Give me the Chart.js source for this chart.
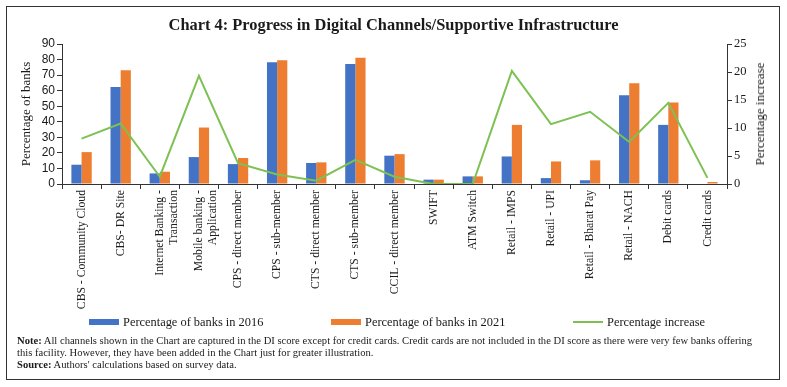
<!DOCTYPE html>
<html>
<head>
<meta charset="utf-8">
<script src="https://cdn.jsdelivr.net/npm/chart.js@4/dist/chart.umd.min.js"></script>
<style>
  html, body { margin: 0; padding: 0; background: #fff; }
  #wrap { position: relative; width: 787px; height: 387px; overflow: hidden; font-family: "Liberation Serif", serif; color: #1a1a1a; }
  #c { position: absolute; left: 0; top: 0; }
  #frame { position: absolute; left: 6px; top: 6px; width: 772px; height: 372px; border: 1.5px solid #333; pointer-events: none; }
  #title { position: absolute; left: 0; width: 787px; top: 14px; text-align: center; font-weight: bold; font-size: 16.4px; line-height: 22px; color: #1a1a1a; }
  .lg { position: absolute; top: 314px; font-size: 12.4px; line-height: 16px; white-space: nowrap; }
  .sw { position: absolute; }
  #notes { position: absolute; left: 17px; top: 335px; font-size: 10px; line-height: 11.8px; white-space: nowrap; color: #1a1a1a; transform-origin: 0 0; }
  #rtitle { position: absolute; left: 760px; top: 114px; font-size: 13px; line-height: 16px; white-space: nowrap; transform: translate(-50%, -50%) rotate(-90deg); }
</style>
</head>
<body>
<div id="wrap">
  <canvas id="c" width="787" height="387"></canvas>
  <div id="title">Chart 4: Progress in Digital Channels/Supportive Infrastructure</div>
  <div id="rtitle"></div>
  <div id="legend"></div>
  <div id="notes"><span id="l1"><b>Note:</b> All channels shown in the Chart are captured in the DI score except for credit cards. Credit cards are not included in the DI score as there were very few banks offering</span><br>this facility. However, they have been added in the Chart just for greater illustration.<br><b>Source:</b> Authors' calculations based on survey data.</div>
  <div id="frame"></div>
</div>
<script>
const categories = [
  "CBS - Community Cloud",
  "CBS- DR Site",
  ["Internet Banking -", "Transaction"],
  ["Mobile banking -", "Application"],
  "CPS - direct member",
  "CPS - sub-member",
  "CTS - direct member",
  "CTS - sub-member",
  "CCIL - direct member",
  "SWIFT",
  "ATM Switch",
  "Retail - IMPS",
  "Retail - UPI",
  "Retail - Bharat Pay",
  "Retail - NACH",
  "Debit cards",
  "Credit cards"
];
const pct2016 = [12.4, 62.4, 6.8, 17.3, 12.8, 78.2, 13.5, 77.2, 18.2, 2.8, 4.9, 17.7, 3.8, 2.4, 57.1, 38.0, 0];
const pct2021 = [20.5, 73.1, 7.9, 36.3, 16.7, 79.5, 13.9, 81.2, 19.2, 2.8, 4.9, 38.0, 14.5, 15.2, 64.8, 52.4, 1.3];
const pctIncrease = [8.1, 10.8, 1.3, 19.3, 3.7, 1.7, 0.6, 4.3, 1.3, 0, 0, 20.2, 10.7, 12.9, 7.5, 14.5, 1.1];
const seriesNames = ["Percentage of banks in 2016", "Percentage of banks in 2021", "Percentage increase"];
const leftTitle = "Percentage of banks";
const rightTitle = "Percentage increase";

const BLUE = "#4472C4", ORANGE = "#ED7D31", GREEN = "#7DC153";
const AX = "#333";
const serif = "'Liberation Serif', serif";

const chart = new Chart(document.getElementById('c'), {
  data: {
    labels: categories,
    datasets: [
      { type: 'line', label: seriesNames[2], data: pctIncrease, yAxisID: 'y1', borderColor: GREEN, borderWidth: 2, pointRadius: 0, tension: 0, order: 0 },
      { type: 'bar', label: seriesNames[0], data: pct2016, yAxisID: 'y', backgroundColor: BLUE, order: 1, barPercentage: 1, categoryPercentage: 0.52 },
      { type: 'bar', label: seriesNames[1], data: pct2021, yAxisID: 'y', backgroundColor: ORANGE, order: 1, barPercentage: 1, categoryPercentage: 0.52 }
    ]
  },
  options: {
    responsive: false,
    animation: false,
    layout: { padding: { top: 44, left: 16, right: 16, bottom: 73 } },
    plugins: { legend: { display: false }, tooltip: { enabled: false }, title: { display: false } },
    scales: {
      x: {
        offset: true,
        grid: { offset: true, drawOnChartArea: false, drawTicks: true, tickLength: 5, color: AX, lineWidth: 1 },
        border: { color: AX, width: 1 },
        ticks: { autoSkip: false, minRotation: 90, maxRotation: 90, padding: 1, color: '#1a1a1a', font: { family: serif, size: 11.7 } },
        afterFit: (s) => { s.height = 130; }
      },
      y: {
        position: 'left', min: 0, max: 90,
        ticks: { stepSize: 10, autoSkip: false, padding: 2, color: '#1a1a1a', font: { family: "'Liberation Sans', sans-serif", size: 12 } },
        grid: { drawOnChartArea: false, tickLength: 5, color: AX },
        border: { color: AX, width: 1 },
        title: { display: true, text: leftTitle, color: '#1a1a1a', font: { family: serif, size: 13 }, padding: 3 },
        afterFit: (s) => { s.width = 46; }
      },
      y1: {
        position: 'right', min: 0, max: 25,
        ticks: { stepSize: 5, autoSkip: false, padding: 2, color: '#1a1a1a', font: { family: serif, size: 12.5 } },
        grid: { drawOnChartArea: false, tickLength: 5, color: AX },
        border: { color: AX, width: 1 },
        title: { display: false, text: rightTitle },
        afterFit: (s) => { s.width = 44; }
      }
    }
  }
});

document.getElementById('rtitle').textContent = chart.options.scales.y1.title.text;

// HTML legend built from the datasets
const legend = document.getElementById('legend');
const legendX = [89, 331, 573];
const order = [1, 2, 0];
order.forEach((di, k) => {
  const ds = chart.data.datasets[di];
  const x = legendX[k];
  const sw = document.createElement('div');
  sw.className = 'sw';
  if (ds.type === 'line') {
    sw.style.cssText = `left:${x}px;top:321px;width:30px;height:2px;background:${ds.borderColor}`;
  } else {
    sw.style.cssText = `left:${x}px;top:319px;width:30px;height:6px;background:${ds.backgroundColor}`;
  }
  legend.appendChild(sw);
  const t = document.createElement('div');
  t.className = 'lg';
  t.style.left = (x + 34) + 'px';
  t.textContent = ds.label;
  legend.appendChild(t);
});

// fit first note line to the reference width
const l1 = document.getElementById('l1');
const w = l1.getBoundingClientRect().width;
const notes = document.getElementById('notes');
notes.style.transform = `scaleX(${735 / w})`;
</script>
</body>
</html>
